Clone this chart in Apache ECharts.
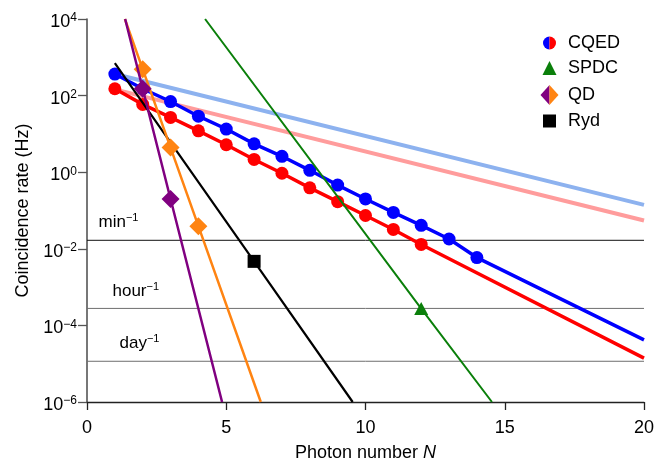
<!DOCTYPE html>
<html>
<head>
<meta charset="utf-8">
<script src="https://cdn.jsdelivr.net/npm/echarts@6/dist/echarts.min.js"></script>
<style>
  html, body { margin: 0; padding: 0; background: #fff; }
  #chart { width: 658px; height: 467px; }
</style>
</head>
<body>
<div id="chart"></div>
<script>
// Measured coincidence rates (Hz) versus photon number N
const cqedN = [1, 2, 3, 4, 5, 6, 7, 8, 9, 10, 11, 12, 13, 14];
const cqedBlueRate = [365, 151, 70, 29, 13.4, 5.5, 2.6, 1.12, 0.46, 0.20, 0.089, 0.041, 0.018, 0.0059];
const cqedRedN = [1, 2, 3, 4, 5, 6, 7, 8, 9, 10, 11, 12];
const cqedRedRate = [151, 59, 27, 12, 5.2, 2.15, 0.94, 0.39, 0.17, 0.074, 0.032, 0.013];
// Extrapolated CQED trends out to N = 20
const extrapN = 20;
const cqedBlueExtrap = 4.2e-5;
const cqedRedExtrap = 1.4e-5;
// Ideal-efficiency CQED trends
const idealN = [1, 20];
const idealBlueRate = [365, 0.14];
const idealRedRate = [145, 0.055];
// SPDC
const spdcLineN = [4.24, 12, 14.54];
const spdcLineRate = [1e4, 2.75e-4, 1e-6];
const spdcN = [12];
const spdcRate = [2.75e-4];
// Quantum dots
const qdPurpleLineN = [1.37, 2, 3, 4.85];
const qdPurpleLineRate = [1e4, 151, 0.2, 1e-6];
const qdPurpleN = [2, 3];
const qdPurpleRate = [151, 0.2];
const qdOrangeLineN = [1.36, 2, 3, 4, 6.24];
const qdOrangeLineRate = [1e4, 490, 4.4, 0.039, 1e-6];
const qdOrangeN = [2, 3, 4];
const qdOrangeRate = [490, 4.4, 0.039];
// Rydberg
const rydLineN = [1, 6, 9.54];
const rydLineRate = [708, 0.0047, 1e-6];
const rydN = [6];
const rydRate = [0.0047];
// Reference rates: once per minute, hour, day
const refLabels = ['min', 'hour', 'day'];
const refRates = [1 / 60, 1 / 3600, 1 / 86400];
const refSpanN = [0, 20];
// Axis ticks
const xTicks = [0, 5, 10, 15, 20];
const yExpMin = -6, yExpMax = 4;

const FONT = '"Liberation Sans", Arial, Helvetica, sans-serif';
const C = {
  blue: '#0000ff', red: '#ff0000', lightBlue: '#8db2ef', pink: '#ff9c9c',
  green: '#0a7f0a', purple: '#800080', orange: '#ff8412', black: '#000000'
};

const zip = (xs, ys) => xs.map((x, i) => [x, ys[i]]);
const sup = s => s.replace('-', '\u2212');

function lineSeries(name, data, color, width, z) {
  return {
    name, type: 'line', data, showSymbol: false, symbol: 'none', z,
    lineStyle: { color, width }, silent: true, animation: false, clip: true
  };
}
function pointSeries(name, data, symbol, size, color, z) {
  return {
    name, type: 'scatter', data, symbol, symbolSize: size, z,
    itemStyle: { color, opacity: 1 }, silent: true, animation: false
  };
}

// Horizontal reference lines with their labels
const refLineSeries = refRates.map((r, i) =>
  lineSeries('ref-' + refLabels[i], refSpanN.map(n => [n, r]), i === 0 ? '#111' : '#6e6e6e', 1, 2));
const refLabelOffsets = [[11, -18], [25, -17], [32, -18]];
const refLabelSeries = {
  name: 'refLabels', type: 'scatter', z: 2, silent: true, animation: false,
  symbol: 'circle', symbolSize: 1, itemStyle: { color: 'rgba(0,0,0,0)' },
  data: refRates.map((r, i) => ({
    value: [refSpanN[0], r],
    label: {
      show: true, position: 'right', distance: 0, offset: refLabelOffsets[i],
      color: '#000', opacity: 1,
      formatter: '{t|' + refLabels[i] + '}{s|\u22121}',
      rich: {
        t: { fontSize: 17, fontFamily: FONT, color: '#000', opacity: 1, lineHeight: 20 },
        s: { fontSize: 11, fontFamily: FONT, color: '#000', opacity: 1, lineHeight: 11, verticalAlign: 'top' }
      }
    }
  }))
};

const series = [
  lineSeries('idealBlue', zip(idealN, idealBlueRate), C.lightBlue, 4, 1),
  lineSeries('idealRed', zip(idealN, idealRedRate), C.pink, 4, 1)
].concat(refLineSeries, [refLabelSeries,
  lineSeries('cqedRedLine', zip(cqedRedN, cqedRedRate).concat([[extrapN, cqedRedExtrap]]), C.red, 3.5, 3),
  pointSeries('cqedRed', zip(cqedRedN, cqedRedRate), 'circle', 13, C.red, 3),
  lineSeries('cqedBlueLine', zip(cqedN, cqedBlueRate).concat([[extrapN, cqedBlueExtrap]]), C.blue, 3.5, 4),
  pointSeries('cqedBlue', zip(cqedN, cqedBlueRate), 'circle', 13, C.blue, 4),
  lineSeries('spdcLine', zip(spdcLineN, spdcLineRate), C.green, 2, 5),
  pointSeries('spdc', zip(spdcN, spdcRate), 'triangle', [14, 13], C.green, 5),
  lineSeries('rydLine', zip(rydLineN, rydLineRate), C.black, 2.2, 5),
  pointSeries('ryd', zip(rydN, rydRate), 'rect', 13, C.black, 5),
  lineSeries('qdOrangeLine', zip(qdOrangeLineN, qdOrangeLineRate), C.orange, 2.5, 6),
  pointSeries('qdOrange', zip(qdOrangeN, qdOrangeRate), 'diamond', 18, C.orange, 6),
  lineSeries('qdPurpleLine', zip(qdPurpleLineN, qdPurpleLineRate), C.purple, 2.5, 7),
  pointSeries('qdPurple', zip(qdPurpleN, qdPurpleRate), 'diamond', 18, C.purple, 7)
]);

// Legend drawn as graphic shapes (two-tone markers)
const legendX = 549.5, textX = 568;
const rowY = [43, 68, 95, 121];
const legendNames = ['CQED', 'SPDC', 'QD', 'Ryd'];
const graphic = [
  { type: 'sector', shape: { cx: legendX, cy: rowY[0], r: 6.5, startAngle: Math.PI / 2, endAngle: Math.PI * 1.5 }, style: { fill: C.blue } },
  { type: 'sector', shape: { cx: legendX, cy: rowY[0], r: 6.5, startAngle: -Math.PI / 2, endAngle: Math.PI / 2 }, style: { fill: C.red } },
  { type: 'polygon', shape: { points: [[legendX - 7, rowY[1] + 7], [legendX + 7, rowY[1] + 7], [legendX, rowY[1] - 7]] }, style: { fill: C.green } },
  { type: 'polygon', shape: { points: [[legendX - 9, rowY[2]], [legendX, rowY[2] - 10], [legendX, rowY[2] + 10]] }, style: { fill: C.purple } },
  { type: 'polygon', shape: { points: [[legendX, rowY[2] - 10], [legendX + 9, rowY[2]], [legendX, rowY[2] + 10]] }, style: { fill: C.orange } },
  { type: 'rect', shape: { x: legendX - 6.5, y: rowY[3] - 6.5, width: 13, height: 13 }, style: { fill: C.black } }
].concat(legendNames.map((t, i) => ({
  type: 'text', x: textX, y: rowY[i],
  style: { text: t, fontSize: 18, fontFamily: FONT, fill: '#000', verticalAlign: 'middle', align: 'left' }
})));

const option = {
  backgroundColor: '#fff',
  animation: false,
  grid: { left: 87, right: 14, top: 19, bottom: 58, containLabel: false },
  xAxis: {
    type: 'value', min: 0, max: 20, interval: 5,
    name: 'Photon number {i|N}', nameLocation: 'middle', nameGap: 42,
    nameTextStyle: {
      fontSize: 18, fontFamily: FONT, color: '#000',
      rich: { i: { fontSize: 18, fontFamily: FONT, fontStyle: 'italic', color: '#000' } }
    },
    axisLine: { show: true, lineStyle: { color: '#222', width: 1.3 } },
    axisTick: { show: true, inside: false, length: 8, lineStyle: { color: '#222', width: 1.3 } },
    axisLabel: { fontSize: 18, fontFamily: FONT, color: '#000', margin: 17,
      formatter: v => (xTicks.includes(v) ? String(v) : '') },
    splitLine: { show: false }
  },
  yAxis: {
    type: 'log', logBase: 10, min: Math.pow(10, yExpMin), max: Math.pow(10, yExpMax), interval: 2,
    name: 'Coincidence rate (Hz)', nameLocation: 'middle', nameGap: 55, nameRotate: 90,
    nameTextStyle: { fontSize: 18, fontFamily: FONT, color: '#000' },
    axisLine: { show: true, lineStyle: { color: '#555', width: 1.6 } },
    axisTick: { show: true, inside: false, length: 9, lineStyle: { color: '#555', width: 1.3 } },
    minorTick: { show: false },
    axisLabel: {
      margin: 10,
      padding: [6, 0, 0, 0],
      formatter: v => '{b|10}{s|' + sup(String(Math.round(Math.log10(v)))) + '}',
      rich: {
        b: { fontSize: 18, fontFamily: FONT, color: '#000', lineHeight: 20 },
        s: { fontSize: 12, fontFamily: FONT, color: '#000', lineHeight: 12, verticalAlign: 'top' }
      }
    },
    splitLine: { show: false }
  },
  graphic,
  series
};

const chart = echarts.init(document.getElementById('chart'), null, { renderer: 'canvas' });
chart.setOption(option);
</script>
</body>
</html>
